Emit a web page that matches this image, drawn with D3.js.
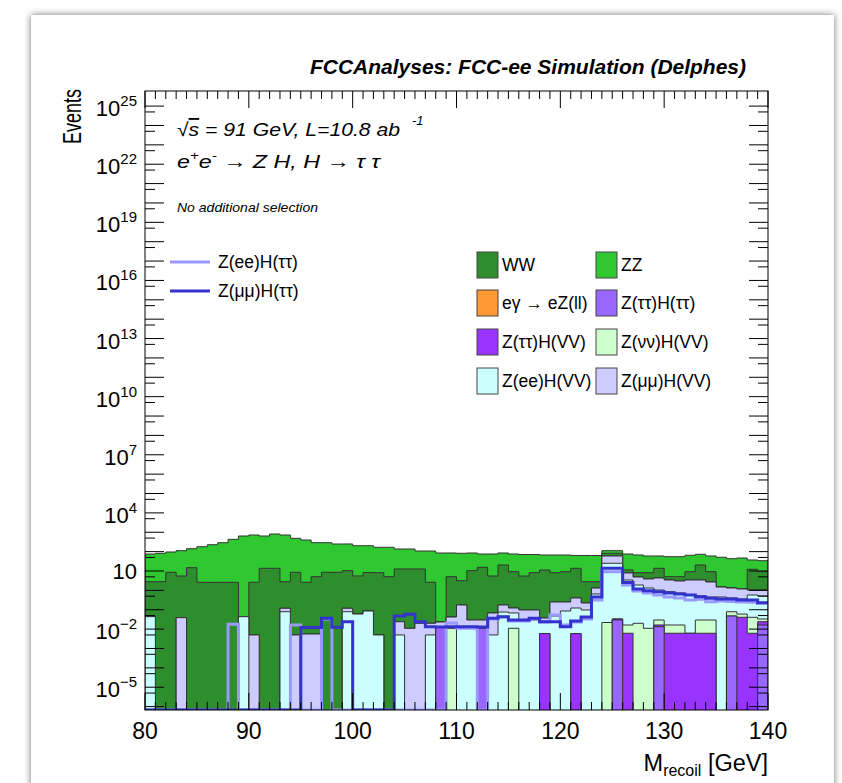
<!DOCTYPE html>
<html><head><meta charset="utf-8">
<script src="https://cdn.jsdelivr.net/npm/d3@7"></script>
<style>
html,body{margin:0;padding:0;background:#fff;}
svg{display:block;font-family:"Liberation Sans",Arial,Helvetica,sans-serif;}
</style>
</head><body>
<svg id="c" width="842" height="783"></svg>
<script>
// ---------------- DATA ----------------
const binLow = [80,81,82,83,84,85,86,87,88,89,90,91,92,93,94,95,96,97,98,99,
  100,101,102,103,104,105,106,107,108,109,110,111,112,113,114,115,116,117,118,119,
  120,121,122,123,124,125,126,127,128,129,130,131,132,133,134,135,136,137,138,139];
const binHigh = 140;
const xTicks = [80,90,100,110,120,130,140];
const yLabelExps = [25,22,19,16,13,10,7,4,1,-2,-5];

const seriesNames = ["Z(ττ)H(ττ)","Z(ττ)H(VV)","Z(νν)H(VV)","Z(ee)H(VV)","Z(μμ)H(VV)","eγ → eZ(ll)","WW","ZZ"];

const zttHtt = [0,0,0,0,0,0,0,0,0,0, 0,0,0,0,0,0,0,0,0,0,
  0,0,0,0,0,0,0,0,0.0128,0, 0,0,0.011,0,0,0,0,0,0,0,
  0,0,0,0,0,0.0295,0,0,0,0.0133, 0,0,0,0,0,0,0.0475,0,0,0.0163];
const zttHVV = [0,0,0,0,0,0,0,0,0,0, 0,0,0,0,0,0,0,0,0,0,
  0,0,0,0,0,0,0,0,0,0, 0,0,0,0,0,0,0,0,0.0059,0,
  0,0.0059,0,0,0,0.0038,0.0061,0,0,0.003, 0.0061,0.0061,0.0061,0.0061,0.0061,0,0,0.0407,0.0061,0.0078];
const znnHVV = [0,0,0,0,0,0,0,0,0,0, 0,0,0,0,0,0,0,0,0,0,
  0,0,0,0,0,0,0,0,0,0.011, 0,0,0,0,0,0.011,0,0,0,0,
  0,0,0,0,0.0219,0,0.0102,0.020,0.011,0.0132, 0.0102,0.0102,0,0.0234,0.0234,0,0.0315,0.019,0.0346,0.0092];
const zeeHVV = [0.044,0,0,0,0,0,0,0,0,0.0437, 0,0,0,0.079,0,0,0,0,0,0.079,
  0.06,0.086,0.005,0,0.005,0,0,0.005,0,0, 0.0128,0.0128,0,0.005,0.076,0.057,0.0295,0.0295,0.0174,0.0475,
  0.086,0.117,0.097,0.65,25,25,3.41,1.87,1.31,1.01, 0.837,0.715,0.571,0.482,0.425,0.455,0.325,0.298,0.536,0.479];
const zmmHVV = [0,0,0,0.039,0,0,0,0,0,0, 0.005,0,0,0.04,0.005,0.0056,0.0056,0,0,0.04,
  0,0,0,0,0.019,0.011,0.020,0.015,0.0105,0.031, 0.163,0.0167,0.0185,0.063,0.1,0.055,0.0675,0.0675,0.0142,0.2035,
  0.165,0.281,0.126,0.67,34.5,34.5,4.47,3.0,2.55,3.31, 2.58,2.32,2.85,2.92,2.25,1.03,0.916,0.822,0.46,0.53];
const egamma = [0,0,0,0,0,0,0,0,0,0, 0,0,0,0,0,0,0,0,0,0,
  0,0,0,0,0,0,0,0,0,0, 0,0,0,0,0,0,0,0,0,0,
  0,0,0,0,0,0,0,0,0,0, 0,0,0,0,0,0,0,0,0,0];
const ww = [2.76,2.8,8.6,5.46,14.8,2.61,2.61,2.61,2.61,0, 2.61,13.8,13.8,2.68,8.6,2.61,5.1,8.6,8.6,10.3,
  5.5,8.2,8.2,5.1,12.7,12.7,12.7,2.61,0,5.06, 2.98,10.4,15.5,5.43,20.2,9.1,5.4,8.1,11.26,7.95,
  8.95,13.4,2.58,1.48,22.5,22.5,3.4,3.3,4.33,9.45, 1.67,2.05,5.77,17,6.5,0,0,0,11.2,8.2];
const zz = [72.7,79.2,87.2,106.5,127,177,225,286,430,641, 719,627,799,719,479,395,284,280,239,238,
  196.5,194,159,162,124,124,95,105,85,80, 79,74.6,60,70,64.6,66,65.5,62.8,55.7,58.8,
  57.8,49.2,60.2,60.2,30,30,64.2,58.8,51.3,45.7, 49.6,49.6,55.5,52.4,50.3,49.5,41.9,45.7,24.8,24.8];

const signalNames = ["Z(ee)H(ττ)","Z(μμ)H(ττ)"];
const zeeHtt = [0,0,0,0,0,0,0,0,0.0177,0, 0,0,0,0,0.0163,0,0,0.0333,0,0,
  0,0,0,0,0,0,0,0,0,0.0207, 0.011,0.011,0,0.0333,0.0422,0.0262,0.0262,0.0333,0.0233,0.0535,
  0.0163,0.0233,0.0333,0.318,9.2,9.2,1.89,0.93,0.731,0.577, 0.455,0.404,0.318,0.35,0.26,0.28,0.27,0.251,0.24,0.215];
const zmmHtt = [0,0,0,0,0,0,0,0,0,0, 0,0,0,0,0,0.0121,0.0121,0.0362,0.0124,0.0241,
  0,0,0,0,0.0475,0.058,0.0241,0.0133,0.0128,0.0133, 0.0133,0.0133,0.0128,0.0362,0.0437,0.0295,0.0295,0.0362,0.0241,0.0241,
  0.0133,0.0262,0.0422,0.455,13.8,13.8,2.55,1.18,0.96,0.853, 0.731,0.65,0.577,0.471,0.39,0.358,0.358,0.318,0.318,0.231];

// ---------------- STYLE ----------------
const stackColors = ["#9966ff","#9933ff","#ccffcc","#ccffff","#ccccff","#ff9933","#2e8e2e","#30c830"];
const signalColors = ["#9999ff","#3333cc"];

// ---------------- LAYOUT ----------------
const svg = d3.select("#c");
const L = 145, R = 768, T = 91, B = 710;
const defs = svg.append("defs");
const flt = defs.append("filter").attr("id","sh").attr("x","-10%").attr("y","-10%").attr("width","120%").attr("height","120%");
flt.append("feDropShadow").attr("dx",0).attr("dy",0).attr("stdDeviation",3.5).attr("flood-color","#000").attr("flood-opacity",0.55);
defs.append("clipPath").attr("id","plotclip").append("rect").attr("x",L).attr("y",T).attr("width",R-L).attr("height",B-T);

svg.append("rect").attr("width",842).attr("height",783).attr("fill","#fff");
svg.append("rect").attr("x",31).attr("y",15).attr("width",803).attr("height",800).attr("fill","#fff").attr("filter","url(#sh)");

const x = d3.scaleLinear().domain([80,140]).range([L,R]);
const y = d3.scaleLog().domain([Math.pow(10,-6.176), Math.pow(10,25.78)]).range([B,T]);
const yMinV = y.domain()[0];

// stack
const keys = ["a","b","c","d","e","f","g","h"];
const arrays = [zttHtt,zttHVV,znnHVV,zeeHVV,zmmHVV,egamma,ww,zz];
const rows = binLow.map((b,i)=>{const o={}; keys.forEach((k,j)=>o[k]=arrays[j][i]); return o;});
const stacked = d3.stack().keys(keys)(rows);

const gPlot = svg.append("g").attr("clip-path","url(#plotclip)");
const yc = v => v > yMinV ? y(v) : B + 15;
const area = d3.area().x(d=>x(d.x)).y0(B+15).y1(d=>yc(d.v)).curve(d3.curveStepAfter);

for (let k = stacked.length-1; k >= 0; k--) {
  const layer = stacked[k];
  const pts = layer.map((d,i)=>({x:binLow[i], v:d[1]}));
  pts.push({x:binHigh, v:layer[layer.length-1][1]});
  gPlot.append("path").attr("d", area(pts))
    .attr("fill", stackColors[k]).attr("stroke","#333").attr("stroke-width",1);
}

// signals
const line = d3.line().x(d=>x(d.x)).y(d=> d.v>0 ? y(d.v) : B).curve(d3.curveStepAfter);
[zeeHtt, zmmHtt].forEach((arr,j)=>{
  const pts = arr.map((v,i)=>({x:binLow[i], v}));
  pts.push({x:binHigh, v:arr[arr.length-1]});
  gPlot.append("path").attr("d", line(pts)).attr("fill","none")
    .attr("stroke", signalColors[j]).attr("stroke-width",3).attr("stroke-linejoin","miter");
});

// axes ticks
const minorX = d3.range(80,141,1);
const decades = d3.range(-6,26);
const halfDec = d3.range(-7,25).map(n=>5*Math.pow(10,n)).filter(v=>v>yMinV && v<y.domain()[1]);
const decVals = decades.map(n=>Math.pow(10,n));
const tg = svg.append("g").attr("stroke","#000").attr("stroke-width",1);
minorX.forEach(v=>{
  const len = xTicks.includes(v) ? 17 : 8;
  tg.append("line").attr("x1",x(v)).attr("x2",x(v)).attr("y1",B).attr("y2",B-len);
  tg.append("line").attr("x1",x(v)).attr("x2",x(v)).attr("y1",T).attr("y2",T+len);
});
decVals.forEach(v=>{
  tg.append("line").attr("x1",L).attr("x2",L+19).attr("y1",y(v)).attr("y2",y(v));
  tg.append("line").attr("x1",R).attr("x2",R-19).attr("y1",y(v)).attr("y2",y(v));
});
halfDec.forEach(v=>{
  tg.append("line").attr("x1",L).attr("x2",L+10).attr("y1",y(v)).attr("y2",y(v));
  tg.append("line").attr("x1",R).attr("x2",R-10).attr("y1",y(v)).attr("y2",y(v));
});
svg.append("rect").attr("x",L).attr("y",T).attr("width",R-L).attr("height",B-T)
  .attr("fill","none").attr("stroke","#000").attr("stroke-width",1);

// tick labels
xTicks.forEach(v=>{
  svg.append("text").attr("x",x(v)).attr("y",739).attr("text-anchor","middle")
    .attr("font-size",23).text(v);
});
yLabelExps.forEach(n=>{
  const t = svg.append("text").attr("x",137).attr("text-anchor","end").attr("font-size",22);
  if (n===1){ t.attr("y", y(10)+8).text("10"); }
  else {
    t.attr("y", y(Math.pow(10,n))+10);
    t.append("tspan").text("10");
    t.append("tspan").attr("font-size",15).attr("dy",-10).text(n<0 ? "−"+(-n) : n);
  }
});

// axis titles
const xt = svg.append("text").attr("x",768).attr("y",771).attr("text-anchor","end").attr("font-size",23.5);
xt.append("tspan").text("M");
xt.append("tspan").attr("font-size",16).attr("dy",5).text("recoil");
xt.append("tspan").attr("dy",-5).text(" [GeV]");
svg.append("text").attr("transform","translate(81,89) rotate(-90)").attr("text-anchor","end")
  .attr("font-size",25).attr("textLength",55).attr("lengthAdjust","spacingAndGlyphs").text("Events");

// title
svg.append("text").attr("x",746).attr("y",74).attr("text-anchor","end")
  .attr("font-size",19.5).attr("font-weight","bold").attr("font-style","italic")
  .attr("textLength",436).attr("lengthAdjust","spacingAndGlyphs")
  .text("FCCAnalyses: FCC-ee Simulation (Delphes)");

// annotations
const t1 = svg.append("text").attr("x",177).attr("y",136).attr("font-size",18.5).attr("font-style","italic")
  .attr("textLength",223).attr("lengthAdjust","spacingAndGlyphs");
t1.append("tspan").text("√");
t1.append("tspan").attr("text-decoration","overline").text("s");
t1.append("tspan").text(" = 91 GeV, L=10.8 ab");
svg.append("text").attr("x",412).attr("y",125).attr("font-size",13).attr("font-style","italic").text("-1");
const t2 = svg.append("text").attr("x",177).attr("y",168).attr("font-size",18.5).attr("font-style","italic")
  .attr("textLength",203).attr("lengthAdjust","spacingAndGlyphs");
t2.append("tspan").text("e");
t2.append("tspan").attr("font-size",12).attr("dy",-8).text("+");
t2.append("tspan").attr("dy",8).text("e");
t2.append("tspan").attr("font-size",12).attr("dy",-8).text("-");
t2.append("tspan").attr("dy",8).text(" → Z H, H  → τ τ");
svg.append("text").attr("x",177).attr("y",212).attr("font-size",13).attr("font-style","italic")
  .attr("textLength",141).attr("lengthAdjust","spacingAndGlyphs")
  .text("No additional selection");

// signal legend
[262,291].forEach((yy,j)=>{
  svg.append("line").attr("x1",170).attr("x2",210).attr("y1",yy).attr("y2",yy)
    .attr("stroke",signalColors[j]).attr("stroke-width",3);
  svg.append("text").attr("x",218).attr("y",yy+6).attr("font-size",17.5).text(signalNames[j]);
});

// stack legend: order WW, ZZ, eγ, Z(ττ)H(ττ), Z(ττ)H(VV), Z(νν)H(VV), Z(ee)H(VV), Z(μμ)H(VV)
const legOrder = [6,7,5,0,1,2,3,4];
const rowY = [265,303,342,381];
const colX = [477,596];
legOrder.forEach((k,i)=>{
  const cx = colX[i%2], cy = rowY[Math.floor(i/2)];
  svg.append("rect").attr("x",cx).attr("y",cy-13).attr("width",21).attr("height",26)
    .attr("fill",stackColors[k]).attr("stroke","#444").attr("stroke-width",1);
  svg.append("text").attr("x",cx+25).attr("y",cy+6).attr("font-size",17.5).text(seriesNames[k]);
});
</script>
</body></html>
